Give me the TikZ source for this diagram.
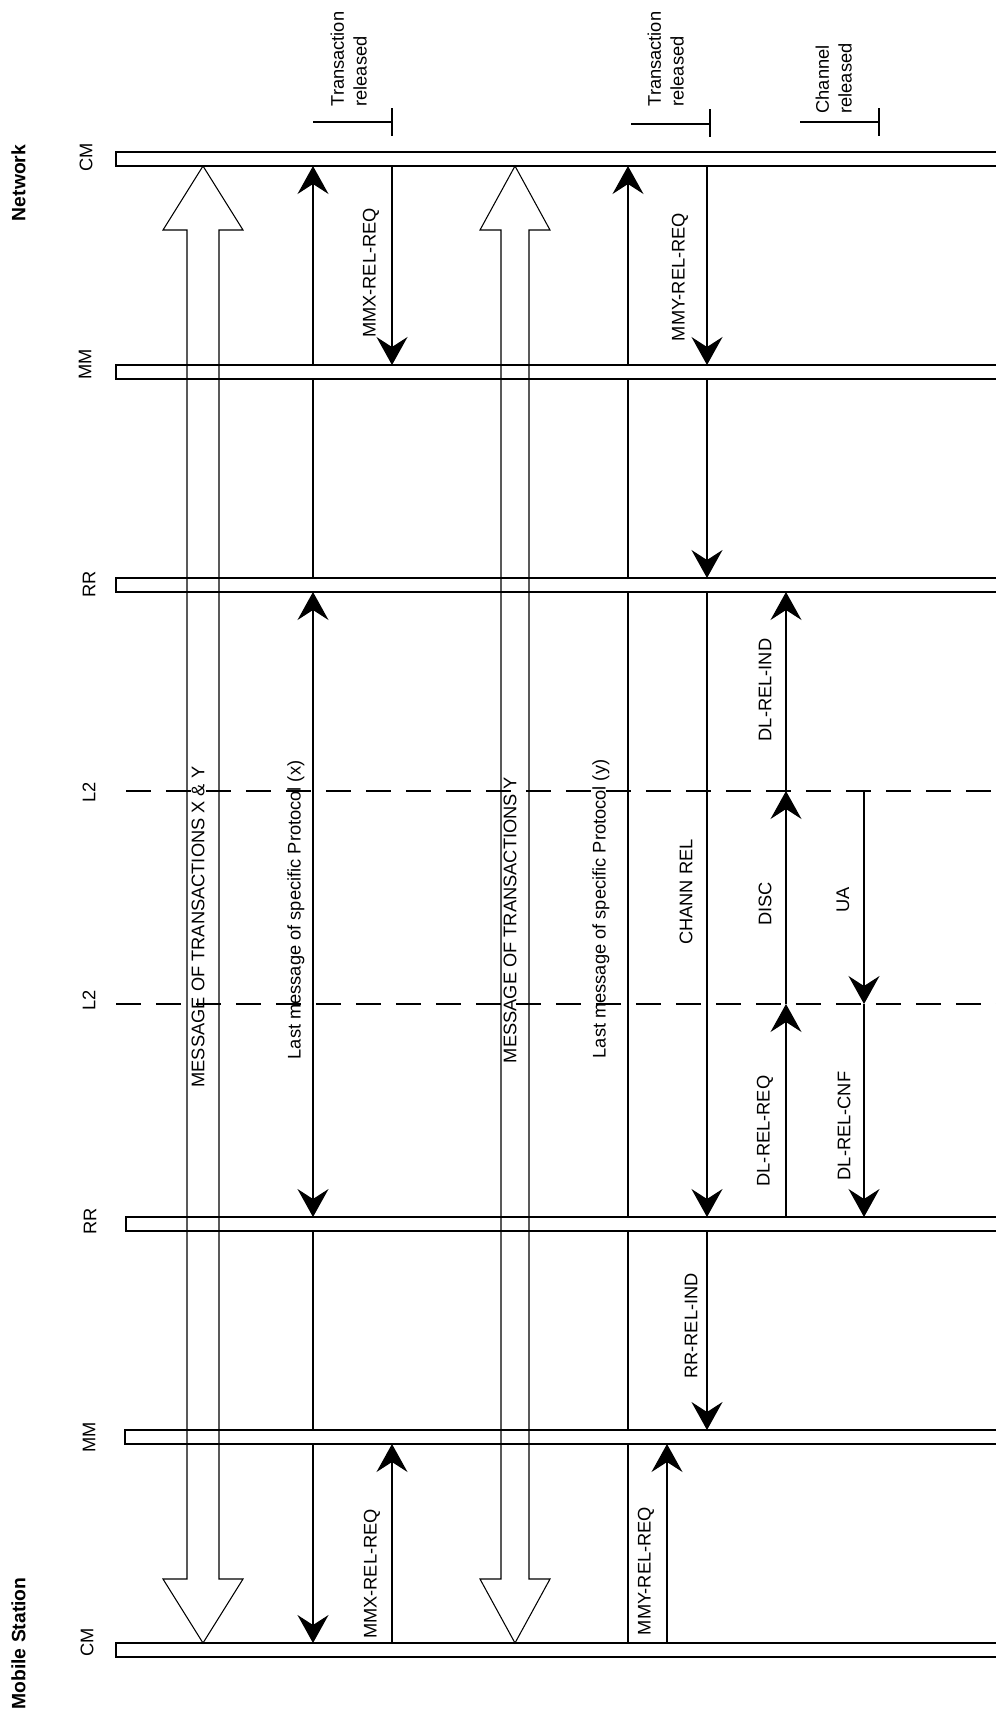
\documentclass[tikz,border=0pt]{standalone}
\usepackage{fontspec}
\setmainfont{Liberation Sans}
\usetikzlibrary{arrows.meta,calc}

\begin{document}
\begin{tikzpicture}[x=0.02cm, y=-0.02cm, line width=0.6pt,
        font=\fontsize{10.4}{13}\selectfont,
        >={Stealth[length=0.56cm, width=0.62cm, inset=0.2cm]},
        barra/.style={draw, fill=white, rectangle, anchor=west, inner sep=0pt, outer sep=0pt, minimum height=0.28cm},
        tratt/.style={dash pattern=on 0.5cm off 0.3cm},
        etic/.style={rotate=90, inner sep=0pt},
        rilascio/.style={rotate=90, inner sep=0pt, anchor=north west, align=left},
        lato/.style={rotate=90, inner sep=0pt, font=\fontsize{11}{13}\selectfont\bfseries}]
        \useasboundingbox (0,0) rectangle (995,1712);

        % Colonne dei messaggi
        \coordinate (kA) at (203,0);
        \coordinate (kX) at (313,0);
        \coordinate (kMx) at (392,0);
        \coordinate (kB) at (515,0);
        \coordinate (kY) at (628,0);
        \coordinate (kMy) at (667,0);
        \coordinate (kC) at (707,0);
        \coordinate (kD) at (786,0);
        \coordinate (kU) at (864,0);

        % Barre dei livelli
        \node[barra, minimum width=18cm] (cmN) at (116,159) {};
        \node[barra, minimum width=18cm] (mmN) at (116,372) {};
        \node[barra, minimum width=18cm] (rrN) at (116,585) {};
        \node[barra, minimum width=17.8cm] (rrM) at (126,1224) {};
        \node[barra, minimum width=17.8cm] (mmM) at (125,1437) {};
        \node[barra, minimum width=18cm] (cmM) at (116,1650) {};

        % Linee tratteggiate L2
        \coordinate (lA) at (126,791);
        \coordinate (lB) at (116,1004);
        \draw[tratt] (lA) -- ++(880,0);
        \draw[tratt] (lB) -- ++(890,0);

        % Etichette a sinistra
        \node[lato] (rete) at (18.5,183) {Network};
        \node[lato, anchor=west] (mobile) at (18.5,1710) {Mobile Station};
        \node[etic] (eCMn) at (86,157) {CM};
        \node[etic] (eMMn) at (85,364) {MM};
        \node[etic] (eRRn) at (89,584) {RR};
        \node[etic] (eL2a) at (89,792) {L2};
        \node[etic] (eL2b) at (89,1000) {L2};
        \node[etic] (eRRm) at (90,1221) {RR};
        \node[etic] (eMMm) at (89,1437) {MM};
        \node[etic] (eCMm) at (87,1642) {CM};

        % Frecce larghe delle transazioni
        \draw (cmN.south -| kA) -- ++(40,64) -- ++(-24,0) -- ($(cmM.north -| kA)+(16,-64)$) -- ++(24,0)
            -- (cmM.north -| kA) -- ++(-40,-64) -- ++(24,0) -- ($(cmN.south -| kA)+(-16,64)$) -- ++(-24,0) -- cycle;
        \draw (cmN.south -| kB) -- ++(35,64) -- ++(-21,0) -- ($(cmM.north -| kB)+(14,-64)$) -- ++(21,0)
            -- (cmM.north -| kB) -- ++(-35,-64) -- ++(21,0) -- ($(cmN.south -| kB)+(-14,64)$) -- ++(-21,0) -- cycle;

        % Ultimo messaggio del protocollo (x)
        \draw (rrN.north -| kX) -- (mmN.south -| kX);
        \draw[->] (mmN.north -| kX) -- (cmN.south -| kX);
        \draw[<->] (rrN.south -| kX) -- (rrM.north -| kX);
        \draw (rrM.south -| kX) -- (mmM.north -| kX);
        \draw[->] (mmM.south -| kX) -- (cmM.north -| kX);

        % MMX-REL-REQ
        \draw[->] (cmN.south -| kMx) -- (mmN.north -| kMx);
        \draw[->] (cmM.north -| kMx) -- (mmM.south -| kMx);

        % Ultimo messaggio del protocollo (y)
        \draw (cmM.north -| kY) -- (mmM.south -| kY);
        \draw (mmM.north -| kY) -- (rrM.south -| kY);
        \draw (rrM.north -| kY) -- (rrN.south -| kY);
        \draw (rrN.north -| kY) -- (mmN.south -| kY);
        \draw[->] (mmN.north -| kY) -- (cmN.south -| kY);

        % MMY-REL-REQ e rilascio del canale
        \draw[->] (cmM.north -| kMy) -- (mmM.south -| kMy);
        \draw[->] (cmN.south -| kC) -- (mmN.north -| kC);
        \draw[->] (mmN.south -| kC) -- (rrN.north -| kC);
        \draw[->] (rrN.south -| kC) -- (rrM.north -| kC);
        \draw[->] (rrM.south -| kC) -- (mmM.north -| kC);

        % Scambio L2
        \draw[->] (lA -| kD) -- (rrN.south -| kD);
        \draw[->] (lB -| kD) -- (lA -| kD);
        \draw[->] (rrM.north -| kD) -- (lB -| kD);
        \draw[->] (lA -| kU) -- (lB -| kU);
        \draw[->] (lB -| kU) -- (rrM.north -| kU);

        % Segni di rilascio
        \draw (313,122) -- (392,122);
        \draw (392,108) -- (392,136);
        \draw (631,124) -- (710,124);
        \draw (710,109) -- (710,137);
        \draw (800,122) -- (879,122);
        \draw (879,108) -- (879,136);
        \node[rilascio] (ril1) at (330,107) {Transaction\\released};
        \node[rilascio] (ril2) at (647,107) {Transaction\\released};
        \node[rilascio] (ril3) at (815,114) {Channel\\released};

        % Nomi dei messaggi
        \node[etic] (tMMXn) at (371,273) {MMX-REL-REQ};
        \node[etic] (tMMYn) at (680,277) {MMY-REL-REQ};
        \node[etic] (tDLind) at (765,690) {DL-REL-IND};
        \node[etic] (tDISC) at (765,904) {DISC};
        \node[etic] (tUA) at (843,900) {UA};
        \node[etic] (tCHANN) at (686,892) {CHANN REL};
        \node[etic] (tDLreq) at (765,1131) {DL-REL-REQ};
        \node[etic] (tDLcnf) at (844,1126) {DL-REL-CNF};
        \node[etic] (tRRind) at (691,1326) {RR-REL-IND};
        \node[etic] (tMMXm) at (372,1574) {MMX-REL-REQ};
        \node[etic] (tMMYm) at (646,1571) {MMY-REL-REQ};
        \node[etic] (tMsgXY) at (198,927) {MESSAGE OF TRANSACTIONS X \& Y};
        \node[etic] (tUltX) at (296,910) {Last message of specific Protocol (x)};
        \node[etic] (tMsgY) at (510,920) {MESSAGE OF TRANSACTIONS Y};
        \node[etic] (tUltY) at (601,909) {Last message of specific Protocol (y)};
      \end{tikzpicture}
\end{document}
